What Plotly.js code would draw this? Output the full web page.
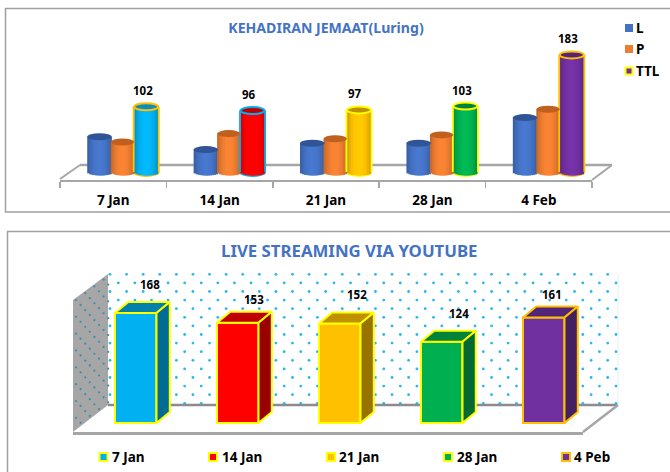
<!DOCTYPE html>
<html><head><meta charset="utf-8">
<script src="https://cdn.plot.ly/plotly-3.0.1.min.js"></script>
<style>html,body{margin:0;padding:0;background:#fff}#c{width:670px;height:472px}</style></head>
<body><div id="c"></div>
<script>
// ---------- data ----------
const kehadiranCategories = ['7 Jan','14 Jan','21 Jan','28 Jan','4 Feb'];
const seriesL   = [55,35,45,45,85];
const seriesP   = [47,60,52,58,98];
const seriesTTL = [102,96,97,103,183];
const streamCategories = ['7 Jan','14 Jan','21 Jan','28 Jan','4 Peb'];
const streamValues = [168,153,152,124,161];

// ---------- styles ----------
const FONT = 'Noto Sans';
const W = 670, H = 472, PX1 = 0.64, PX2 = 0.655;  // pixels per value unit
const BLUE = '#4472c4', GREY = '#a6a6a6';
const ttlColors  = ['#00b0f0','#ff0000','#ffc000','#00b050','#7030a0'];
const ttlCaps    = ['#0b8ebf','#c00000','#bf9000','#00843c','#54247a'];
const ttlBorders = ['#ffc000','#00b0f0','#ffff00','#ffff00','#ffc000'];
const liveColors = ['#00b0f0','#ff0000','#ffc000','#00b050','#7030a0'];
const liveTops   = ['#0080ad','#bf0000','#bf9000','#00843c','#54247a'];
const liveSides  = ['#006c94','#990000','#997300','#006a30','#432060'];
const liveBorders= ['#ffff00','#ffff00','#ffff00','#ffff00','#ffc000'];

function shade(hex,f){
  const n=parseInt(hex.slice(1),16);
  const c=[n>>16,(n>>8)&255,n&255].map(v=>Math.min(255,Math.round(v*f)));
  return `rgb(${c[0]},${c[1]},${c[2]})`;
}
const traces=[], shapes=[], annotations=[];

// ---------- backdrop: page-pixel axes ----------
const line=(x0,y0,x1,y1,color,width)=>shapes.push({type:'line',xref:'x',yref:'y',x0,y0,x1,y1,layer:'below',line:{color,width}});
const poly=(pts,fill,color,width)=>shapes.push({type:'path',xref:'x',yref:'y',layer:'below',
  path:'M'+pts.map(p=>p.join(',')).join('L')+'Z',fillcolor:fill,line:{color:color||fill,width:width||0}});
// frames
shapes.push({type:'path',xref:'x',yref:'y',layer:'below',path:'M680,8.5L5.5,8.5L5.5,212L680,212',line:{color:'#a0a0a0',width:1.5}});
shapes.push({type:'path',xref:'x',yref:'y',layer:'below',path:'M680,231.5L7.5,231.5L7.5,480',line:{color:'#a0a0a0',width:1.5}});
// chart 1 floor
line(60,179,80,165,GREY,2); line(80,165,612,165,GREY,2.5); line(612,165,592,180,GREY,2);
// chart 2 walls and floor
poly([[73,300],[108,274],[108,405],[73,432]],'#a6a6a6');
line(108,405,618,405,'#8c8c8c',2.5); line(618,405,583,432,GREY,2.5); line(618,274,618,405,'#e4eef2',1);
// wall dots (texture)
const dotX=[],dotY=[];
for(let r=0;r<16;r++)for(let k=0;k<31;k++){
  const x=110+16.59*k+(r%2?8.3:0), y=274.3+8.6*r;
  if(x<617)dotX.push(x),dotY.push(y);
}
traces.push({type:'scatter',mode:'markers',x:dotX,y:dotY,xaxis:'x',yaxis:'y',showlegend:false,hoverinfo:'skip',
  marker:{color:'#2db7ea',size:2.8}});
const sideX=[],sideY=[];
for(let c=0;c<8;c++)for(let k=-1;k<10;k++){
  const x=76+4.6*c, y=265+(105-10.2*c+(c%2?25:0)+50.5*k)/3, top=300-(x-73)*26/35+2, bot=432-(x-73)*27/35-2;
  if(y>top&&y<bot)sideX.push(x),sideY.push(y);
}
traces.push({type:'scatter',mode:'markers',x:sideX,y:sideY,xaxis:'x',yaxis:'y',showlegend:false,hoverinfo:'skip',
  marker:{color:'#3a8eac',size:2.2}});

// ---------- chart 1: cylinders ----------
const CAT1=106.5, RY=3.5/PX1;
const cylinders=[
  {name:'L',vals:seriesL,cols:Array(5).fill(BLUE),caps:Array(5).fill('#2f5597'),start:-26,w:24.5,border:null},
  {name:'P',vals:seriesP,cols:Array(5).fill('#ed7d31'),caps:Array(5).fill('#c0601f'),start:-2.5,w:23.5,border:null},
  {name:'TTL',vals:seriesTTL,cols:ttlColors,caps:ttlCaps,start:21,w:24,border:ttlBorders}
];
const STRIPS=12;
cylinders.forEach(s=>{
  const off=s.start/CAT1, wid=s.w/CAT1;
  if(s.border) s.vals.forEach((v,i)=>{
    const cx=i+off+wid/2, rx=wid/2+1.5/CAT1, ry=RY+1.5/PX1;
    shapes.push({type:'circle',xref:'x2',yref:'y2',layer:'below',x0:cx-rx,x1:cx+rx,y0:-ry,y1:ry,fillcolor:s.border[i],line:{width:0}});
  });
  for(let n=0;n<STRIPS;n++){
    const t=(n+0.5)/STRIPS, f=0.78+0.28*Math.pow(Math.sin(Math.PI*t),0.7);
    const curve=RY*Math.sqrt(Math.max(0,1-Math.pow(2*t-1,2)));
    // each strip overlaps the next one so no seam shows between them
    const span=(n<STRIPS-1?2:1)*wid/STRIPS;
    traces.push({type:'bar',xaxis:'x2',yaxis:'y2',name:s.name,x:kehadiranCategories,
      y:s.vals.map(v=>v+curve),base:s.vals.map(()=>-curve),
      offset:off+wid*n/STRIPS,width:span,showlegend:false,hoverinfo:'skip',
      marker:{color:s.cols.map(c=>shade(c,f)),line:{width:0}}});
  }
  if(s.border){
    [-1,1].forEach(side=>{
      traces.push({type:'bar',xaxis:'x2',yaxis:'y2',name:s.name+' edge',x:kehadiranCategories,y:s.vals,
        offset:(side<0?off-1.5/CAT1:off+wid-0.3/CAT1),width:1.8/CAT1,showlegend:false,hoverinfo:'skip',
        marker:{color:s.border,line:{width:0}}});
    });
  }
  s.vals.forEach((v,i)=>{
    const cx=i+off+wid/2, rx=wid/2;
    shapes.push({type:'circle',xref:'x2',yref:'y2',layer:'above',x0:cx-rx,x1:cx+rx,y0:v-RY,y1:v+RY,
      fillcolor:s.caps[i],line:s.border?{color:s.border[i],width:2}:{width:0}});
  });
});
seriesTTL.forEach((v,i)=>annotations.push({xref:'x2',yref:'y2',x:i+29.5/CAT1,y:v,yanchor:'middle',xanchor:'center',
  text:String(v),showarrow:false,yshift:16,font:{family:FONT,size:11.5,color:'#000',weight:'bold'}}));

// ---------- chart 2: boxes ----------
const CAT2=102, BOFF=-9/CAT2, BW=41.5/CAT2, DX=13.3/CAT2, DY=11/PX2;
streamCategories.forEach((c,i)=>{
  const v=streamValues[i], x0=i+BOFF, x1=x0+BW;
  traces.push({type:'bar',xaxis:'x3',yaxis:'y3',name:c,x:[i],y:[v],offset:BOFF,width:BW,showlegend:false,
    marker:{color:liveColors[i],line:{color:liveBorders[i],width:2}}});
  traces.push({type:'scatter',mode:'lines',xaxis:'x3',yaxis:'y3',x:[x0,x0+DX,x1+DX,x1,x0],y:[v,v+DY,v+DY,v,v],
    fill:'toself',fillcolor:liveTops[i],line:{color:liveBorders[i],width:2},showlegend:false,hoverinfo:'skip'});
  traces.push({type:'scatter',mode:'lines',xaxis:'x3',yaxis:'y3',x:[x1,x1+DX,x1+DX,x1,x1],y:[v,v+DY,DY,0,v],
    fill:'toself',fillcolor:liveSides[i],line:{color:liveBorders[i],width:2},showlegend:false,hoverinfo:'skip'});
});
const labelDx=[14.5,16,17.7,17,7.8], labelLift=[17,12,18,17,12];
streamValues.forEach((v,i)=>annotations.push({xref:'x3',yref:'y3',x:i+BOFF+BW/2+labelDx[i]/CAT2,y:v+DY,yanchor:'middle',xanchor:'center',
  text:String(v),showarrow:false,yshift:labelLift[i],font:{family:FONT,size:11.5,color:'#000',weight:'bold'}}));

// ---------- legends (page-pixel axes) ----------
function legendItem(name,x,y,color,border,size,textX){
  traces.push({type:'scatter',mode:'markers',x:[x],y:[y],xaxis:'x',yaxis:'y',name,
    showlegend:false,hoverinfo:'skip',cliponaxis:false,
    marker:{symbol:'square',size:size,color,line:{color:border||color,width:border?2:0}}});
  annotations.push({xref:'x',yref:'y',x:textX,y:y,xanchor:'left',yanchor:'middle',showarrow:false,text:name,
    xshift:-2,font:{family:FONT,size:13.5,color:'#000',weight:'bold'}});
}
legendItem('L',629,28,BLUE,null,8,636);
legendItem('P',629,49,'#ed7d31',null,8,636);
legendItem('TTL',629,71,'#7030a0','#ffff00',7,636);
const legendCx=[103.5,213,331,448,566], legendTx=[111.5,221.5,339,456.5,574];
streamCategories.forEach((c,i)=>legendItem(c,legendCx[i],457,liveColors[i],liveBorders[i],8,legendTx[i]));

annotations.push({xref:'paper',yref:'paper',x:349/W,y:1-250/H,xanchor:'center',yanchor:'middle',showarrow:false,
  text:'LIVE STREAMING VIA YOUTUBE',font:{family:FONT,size:16.8,color:BLUE,weight:'bold'}});

const layout={
  width:W,height:H,margin:{l:0,r:0,t:0,b:0,pad:0},paper_bgcolor:'#fff',plot_bgcolor:'rgba(0,0,0,0)',
  showlegend:false,barmode:'overlay',hovermode:false,
  title:{text:'KEHADIRAN JEMAAT(Luring)',x:326/W,xanchor:'center',xref:'paper',y:1-28/H,yref:'paper',yanchor:'middle',
    font:{family:FONT,size:14.1,color:BLUE,weight:'bold'}},
  xaxis:{domain:[0,1],range:[0,W],visible:false,fixedrange:true},
  yaxis:{domain:[0,1],range:[H,0],visible:false,fixedrange:true},
  xaxis2:{domain:[60/W,592/W],type:'category',categoryorder:'array',categoryarray:kehadiranCategories,range:[-0.5,4.5],anchor:'y2',
    tickson:'boundaries',ticks:'outside',ticklen:6,tickcolor:GREY,tickwidth:1.5,showline:true,linecolor:GREY,linewidth:2,showgrid:false,zeroline:false,
    ticklabelstandoff:7,tickfont:{family:FONT,size:13.5,color:'#000',weight:'bold'},fixedrange:true},
  yaxis2:{domain:[1-180/H,1-30/H],range:[-8/PX1,142/PX1],anchor:'x2',visible:false,fixedrange:true},
  xaxis3:{domain:[73/W,583/W],range:[-0.5,4.5],anchor:'y3',showline:true,linecolor:GREY,linewidth:2.5,showgrid:false,zeroline:false,
    ticks:'',showticklabels:false,fixedrange:true},
  yaxis3:{domain:[1-432/H,1-260/H],range:[-9/PX2,163/PX2],anchor:'x3',visible:false,fixedrange:true},
  shapes,annotations
};
Plotly.newPlot('c',traces,layout,{displayModeBar:false,staticPlot:true});
</script></body></html>
